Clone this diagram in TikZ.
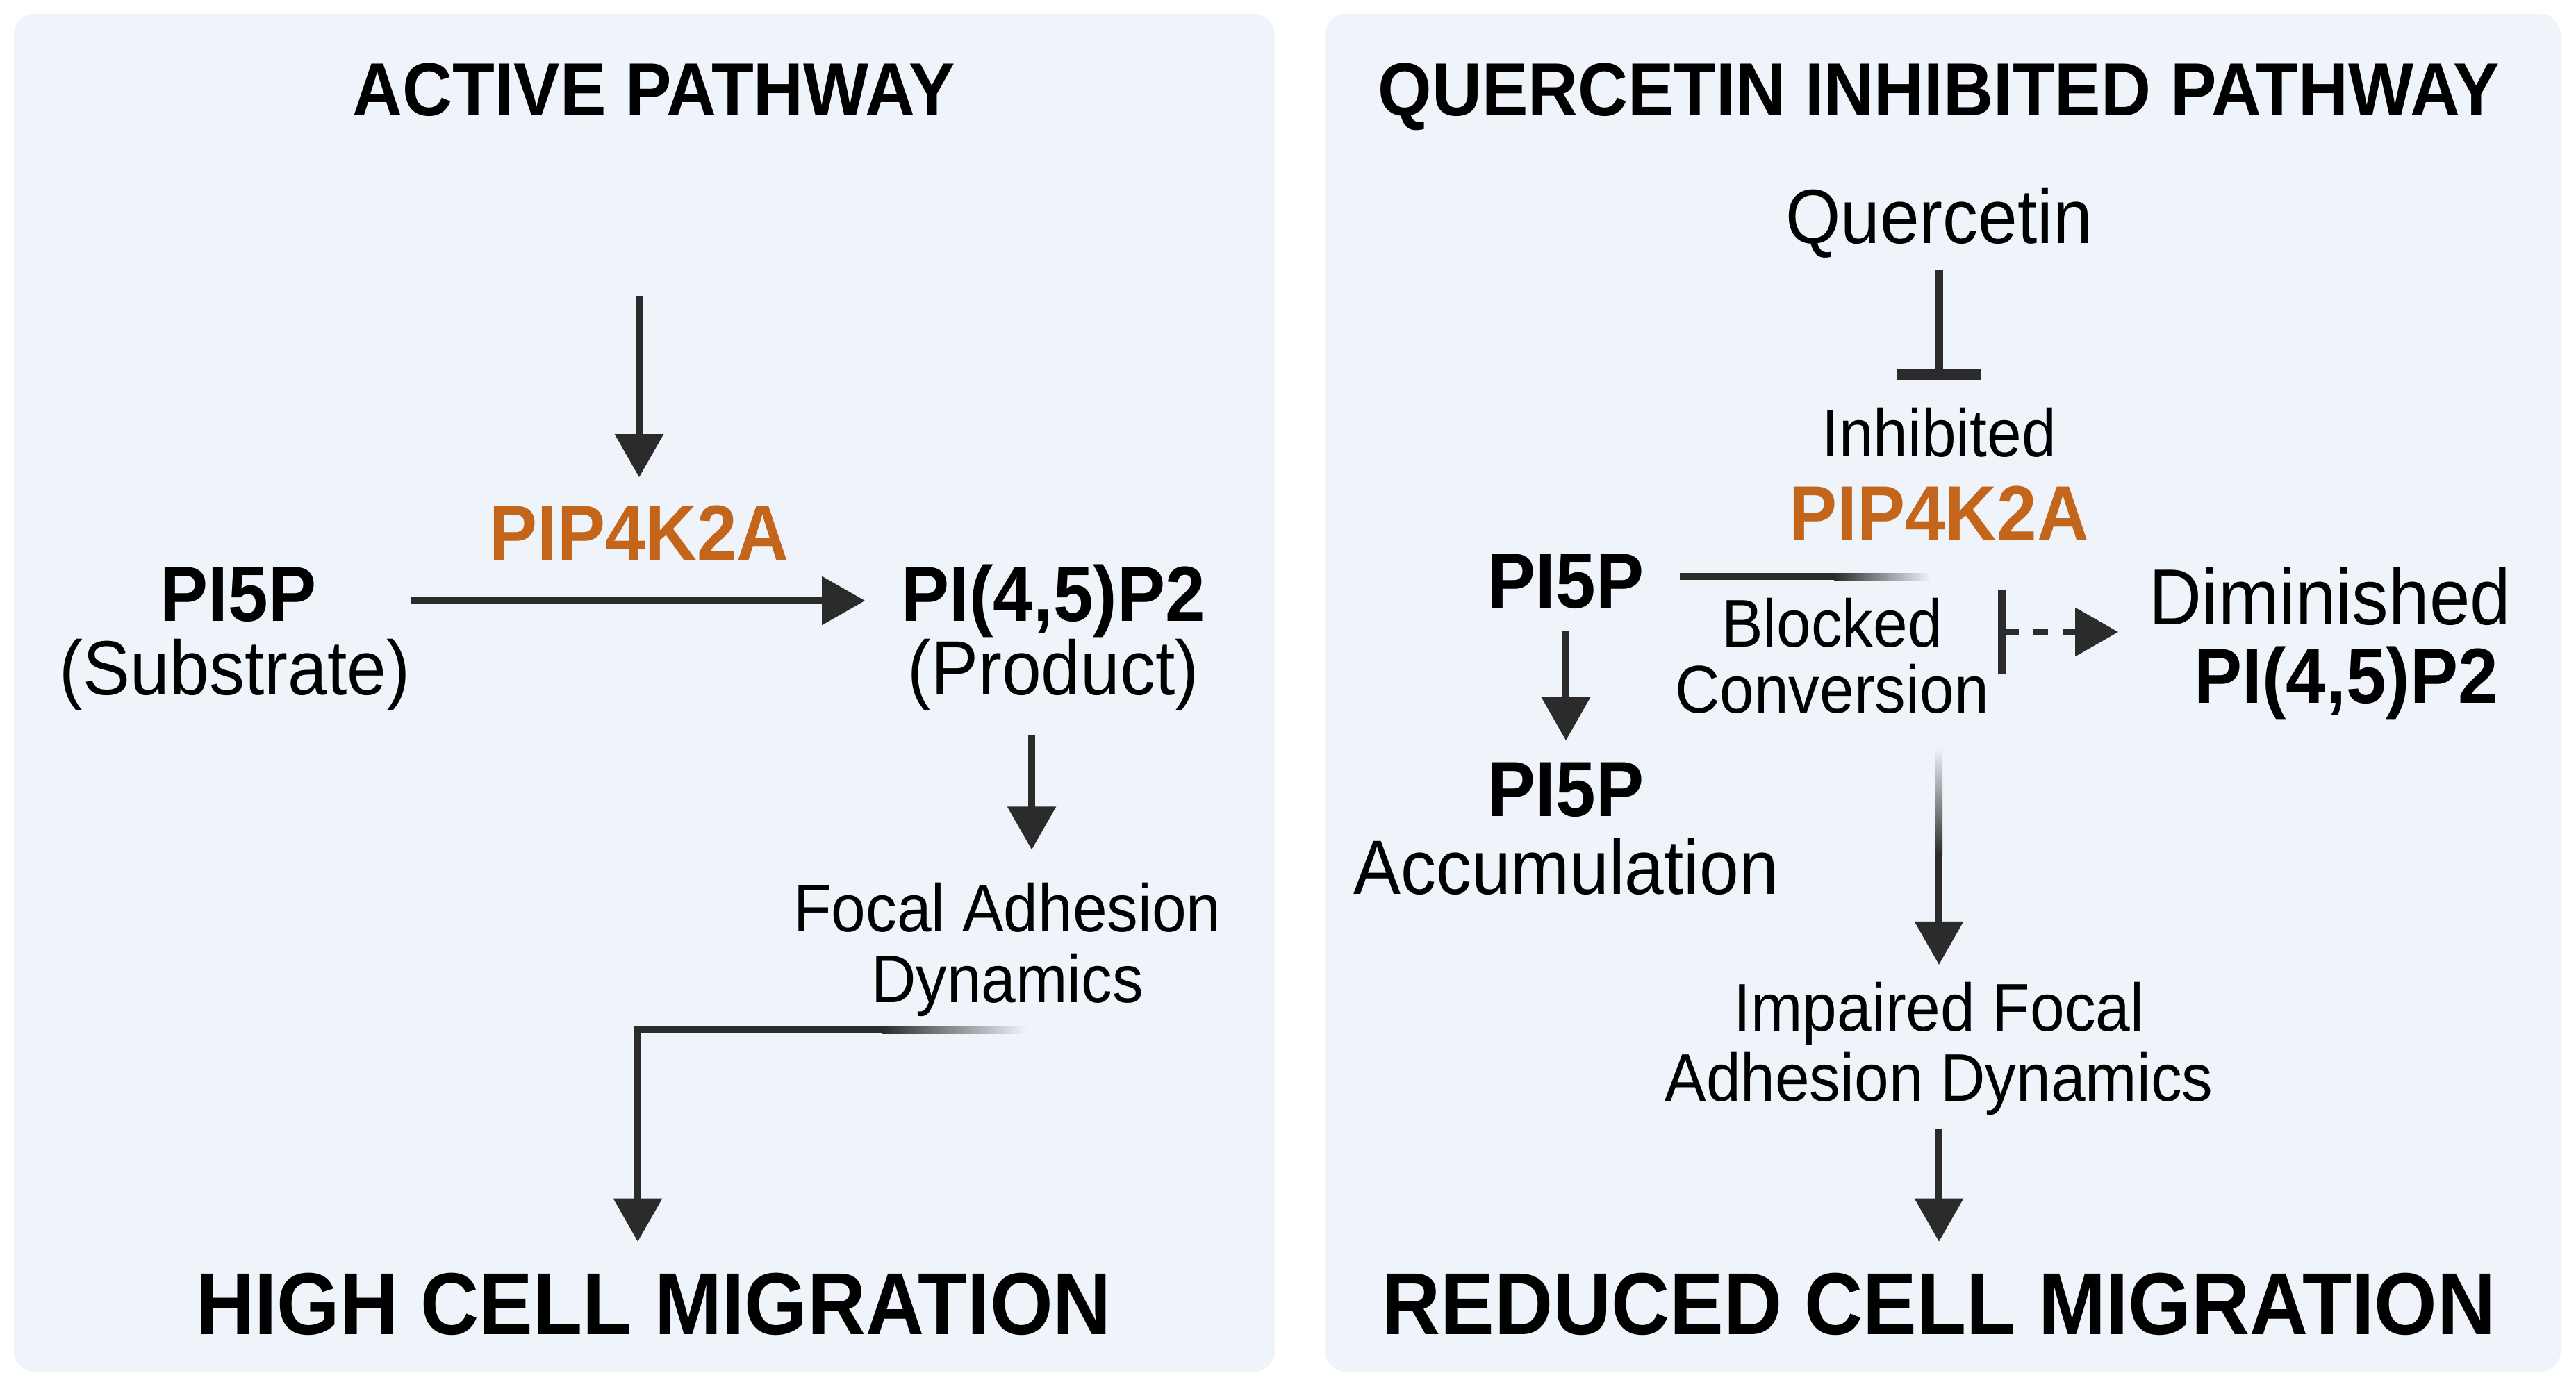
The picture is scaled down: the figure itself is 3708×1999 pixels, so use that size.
\documentclass[tikz,border=0pt]{standalone}
\usepackage{fontspec}
\setmainfont[FakeStretch=0.92]{Liberation Sans}
\usetikzlibrary{arrows.meta}
\definecolor{panel}{HTML}{EFF4FA}
\definecolor{ink}{HTML}{2B2B2B}
\definecolor{enz}{HTML}{C4651C}

\begin{document}
\begin{tikzpicture}[x=0.01cm,y=-0.01cm,
    every node/.style={inner sep=0pt,anchor=base},
    title/.style={font=\bfseries\fontsize{30.8pt}{34pt}\selectfont},
    outcome/.style={font=\bfseries\fontsize{36pt}{40pt}\selectfont},
    mol/.style={font=\bfseries\fontsize{32pt}{36pt}\selectfont},
    enzyme/.style={mol,text=enz},
    lab/.style={font=\fontsize{27.6pt}{29pt}\selectfont,align=center},
    labL/.style={font=\fontsize{31.5pt}{34pt}\selectfont},
    arr/.style={draw=ink,line width=2.85pt,-{Triangle[length=17.7pt,width=19.3pt]}},
    inh/.style={draw=ink,line width=3.6pt,-{Bar[width=34.7pt,line width=4.5pt]}},
    blk/.style={draw=ink,line width=2.85pt,dash pattern=on 6pt off 6pt,
      {Bar[width=33.9pt,line width=3.4pt]}-{Triangle[length=17.7pt,width=19.3pt]}}]
    \fill[white] (0,0) rectangle (3708,1999);
    \fill[panel,rounded corners=8.5pt] (20,20) rectangle (1835,1975);
    \fill[panel,rounded corners=8.5pt] (1907,20) rectangle (3686,1975);

    % active pathway
    \node[title] (tA) at (941,166) {ACTIVE PATHWAY};
    \node[enzyme] (pipA) at (920,806) {PIP4K2A};
    \node[mol] (sub) at (343,894) {PI5P};
    \node[labL] (subL) at (338,1000) {(Substrate)};
    \node[mol] (prod) at (1516,894) {PI(4,5)P2};
    \node[labL] (prodL) at (1516,1000) {(Product)};
    \node[lab] (focal) at (1450,1443) {Focal Adhesion\\Dynamics};
    \node[outcome] (high) at (941,1921) {HIGH CELL MIGRATION};
    \coordinate (inA) at (920,426);
    \coordinate (solidA) at (1270,1483);
    \coordinate (fadeA) at (1478,1483);
    \coordinate (bendA) at (918,1483);
    \draw[arr,shorten >=11.2pt] (inA) -- (inA |- pipA.north);
    \draw[arr,shorten <=38.7pt,shorten >=14.6pt] (sub.east |- prod.west) -- (prod.west);
    \draw[arr,shorten <=9.7pt,shorten >=13.2pt] ([xshift=-8.8pt]prodL.south) -- ([xshift=-8.8pt]prodL.south |- focal.north);
    \shade[left color=ink,right color=panel] ([yshift=1.42pt]solidA) rectangle ([yshift=-1.42pt]fadeA);
    \draw[arr,shorten >=12.5pt] (solidA) -- (bendA) -- (bendA |- high.north);

    % quercetin inhibited pathway
    \node[title] (tB) at (2791,166) {QUERCETIN INHIBITED PATHWAY};
    \node[labL] (quer) at (2791,350) {Quercetin};
    \node[lab] (inhb) at (2791,657) {Inhibited};
    \node[enzyme] (pipB) at (2791,778) {PIP4K2A};
    \node[mol] (rsub) at (2254,875) {PI5P};
    \node[lab,font=\fontsize{27.6pt}{26.8pt}\selectfont] (blocked) at (2637,1026) {Blocked\\Conversion};
    \node[labL,font=\fontsize{32.5pt}{34pt}\selectfont] (dimin) at (3354,899) {Diminished};
    \node[mol] (dimpip) at (3377,1012) {PI(4,5)P2};
    \node[mol] (accP) at (2254,1175) {PI5P};
    \node[labL] (accL) at (2254,1287) {Accumulation};
    \node[lab,font=\fontsize{27.6pt}{28.5pt}\selectfont] (impair) at (2791,1585) {Impaired Focal\\Adhesion Dynamics};
    \node[outcome] (reduced) at (2791,1921) {REDUCED CELL MIGRATION};
    \coordinate (blkS) at (2640,830);
    \coordinate (blkE) at (2779,830);
    \coordinate (cutB) at (2876,910);
    \coordinate (fadeB) at (2791,1076);
    \coordinate (solidB) at (2791,1230);
    \draw[inh,shorten <=5pt,shorten >=11.2pt] (quer.south) -- (inhb.north);
    \draw[ink,line width=2.85pt] ([xshift=14.5pt]rsub.east |- blkS) -- (blkS);
    \shade[left color=ink,right color=panel] ([yshift=1.42pt]blkS) rectangle ([yshift=-1.42pt]blkE);
    \draw[blk,shorten >=12.5pt] (cutB) -- (cutB -| dimin.west);
    \draw[arr,shorten <=8.8pt,shorten >=8.7pt] (rsub.south) -- (accP.north);
    \shade[top color=panel,bottom color=ink] ([xshift=-1.42pt]fadeB) rectangle ([xshift=1.42pt]solidB);
    \draw[arr,shorten >=7pt] (solidB) -- (impair.north);
    \draw[arr,shorten <=5.6pt,shorten >=12.5pt] (impair.south) -- (reduced.north);
\end{tikzpicture}
\end{document}
